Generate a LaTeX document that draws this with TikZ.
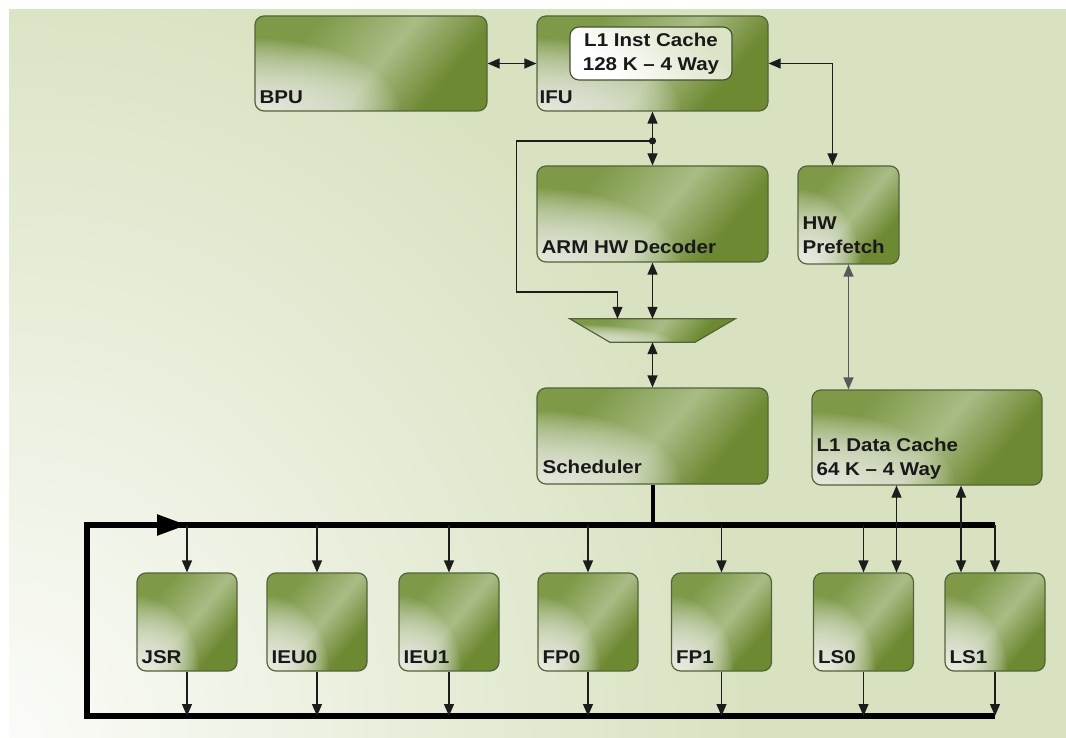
\documentclass[tikz,border=0pt]{standalone}
\usepackage{fontspec}
\setmainfont{Liberation Sans}[FakeStretch=1.11]
\usetikzlibrary{arrows.meta,calc,fadings}
\definecolor{bggreen}{HTML}{D8E2C0}
\definecolor{gA}{HTML}{7E9A48}
\definecolor{gB}{HTML}{A9BC86}
\definecolor{gC}{HTML}{6D8932}
\definecolor{bord}{HTML}{55633A}
\definecolor{lineblk}{HTML}{1C1C1C}
\definecolor{cacheA}{HTML}{DCE4C8}
\pgfdeclarehorizontalshading{gshade}{100bp}{color(0bp)=(gA); color(30bp)=(gA); color(52bp)=(gB); color(70bp)=(gC); color(100bp)=(gC)}
\pgfdeclarehorizontalshading{cshade}{100bp}{color(0bp)=(white); color(30bp)=(white); color(70bp)=(cacheA); color(100bp)=(cacheA)}
\tikzfading[name=glow, inner color=transparent!0, outer color=transparent!100]
\begin{document}
\begin{tikzpicture}[x=1pt,y=-1pt,
  gbox/.style={draw=bord, line width=1.2pt, shade, shading=gshade, shading angle=-40, inner sep=0pt,
    path picture={
      \foreach \k in {1,...,40}{
        \fill[white, opacity=0.048]
          let \p1=(path picture bounding box.south west), \p2=(path picture bounding box.north east) in
          (\p1) ellipse [x radius={(\x2-\x1)*0.0155*\k}, y radius={(\y2-\y1)*0.019*\k}];
      }}},
  rbox/.style={gbox, rounded corners=9pt},
  cbox/.style={draw=bord!80!black, line width=1.1pt, rounded corners=9pt, shade, shading=cshade, shading angle=45, inner sep=0pt,
    align=center, font=\bfseries\fontsize{18.5}{24}\selectfont, text=black!90},
  lbl/.style={anchor=base west, inner sep=0pt, font=\bfseries\fontsize{18.5}{24}\selectfont, text=black!90},
  arr/.style={draw=lineblk, line width=1.2pt, -{Triangle[length=12pt,width=10pt]}},
  dbl/.style={draw=lineblk, line width=1.2pt, {Triangle[length=12pt,width=10pt]}-{Triangle[length=12pt,width=10pt]}},
  bus/.style={draw=black, line width=5.5pt, line join=miter},
  stub/.style={draw=black, line width=4pt},
  unit/.style={rbox, minimum width=100pt, minimum height=98pt},
]
\useasboundingbox (0,0) rectangle (1066,738);
% background
\begin{scope}
  \clip (9,9) rectangle (1066,738);
  \fill[bggreen] (9,9) rectangle (1066,738);
  \fill[white, path fading=glow, fill opacity=0.9] (-741,-62) rectangle (759,1538);
\end{scope}

% upper blocks
\node[rbox, minimum width=232pt, minimum height=95pt] (bpu) at (371,63.5) {};
\node[rbox, minimum width=231pt, minimum height=95pt] (ifu) at (652.5,63.5) {};
\node[cbox, minimum width=162pt, minimum height=53pt] (l1i) at (651,53.5) {L1 Inst Cache\\128 K – 4 Way};
\node[rbox, minimum width=231pt, minimum height=96pt] (dec) at (652.5,214) {};
% multiplexer (trapezoid drawn over an invisible frame node)
\node[inner sep=0pt, minimum width=165pt, minimum height=23pt] (mux) at (652.5,330.5) {};
\path[gbox, line join=miter] (mux.north west) -- (mux.north east) -- ([xshift=-40pt]mux.south east)
  -- ([xshift=40pt]mux.south west) -- cycle;
\node[rbox, minimum width=231pt, minimum height=96pt] (sched) at (652.5,436) {};
\node[rbox, minimum width=101pt, minimum height=98pt] (hwp) at (848.5,215) {};
\node[rbox, minimum width=230pt, minimum height=95pt] (dc) at (927,437.5) {};

% units
\node[unit] (jsr)  at (187,622) {};
\node[unit] (ieu0) at (317,622) {};
\node[unit] (ieu1) at (449,622) {};
\node[unit] (fp0)  at (588,622) {};
\node[unit] (fp1)  at (721.5,622) {};
\node[unit] (ls0)  at (863.5,622) {};
\node[unit] (ls1)  at (995,622) {};

% labels
\node[lbl] (bpuL)  at ([shift={(5,-8)}]bpu.south west) {BPU};
\node[lbl] (ifuL)  at ([shift={(3,-8)}]ifu.south west) {IFU};
\node[lbl] (decL)  at ([shift={(5,-9)}]dec.south west) {ARM HW Decoder};
\node[lbl] (schL)  at ([shift={(6,-11)}]sched.south west) {Scheduler};
\node[lbl] (hwpL1) at ([shift={(5,-35)}]hwp.south west) {HW};
\node[lbl] (hwpL2) at ([shift={(5,-11)}]hwp.south west) {Prefetch};
\node[lbl] (dcL1)  at ([shift={(5,-34)}]dc.south west) {L1 Data Cache};
\node[lbl] (dcL2)  at ([shift={(5,-10)}]dc.south west) {64 K – 4 Way};
\node[lbl] (jsrL)  at ([shift={(5,-8)}]jsr.south west) {JSR};
\node[lbl] (ieu0L) at ([shift={(5,-8)}]ieu0.south west) {IEU0};
\node[lbl] (ieu1L) at ([shift={(5,-8)}]ieu1.south west) {IEU1};
\node[lbl] (fp0L)  at ([shift={(5,-8)}]fp0.south west) {FP0};
\node[lbl] (fp1L)  at ([shift={(5,-8)}]fp1.south west) {FP1};
\node[lbl] (ls0L)  at ([shift={(5,-8)}]ls0.south west) {LS0};
\node[lbl] (ls1L)  at ([shift={(5,-8)}]ls1.south west) {LS1};

% upper connectors
\draw[dbl] (bpu.east) -- (ifu.west);
\coordinate (hwpin) at ([xshift=-16pt]hwp.north);
\draw[dbl] (ifu.east) -| (hwpin);
\draw[dbl] (ifu.south) -- (dec.north);
\coordinate (tap) at ($(ifu.south)!0.545!(dec.north)$);
\fill[lineblk] (tap) circle[radius=3.6pt];
\coordinate (muxin) at ([xshift=-35pt]mux.north);
\draw[arr] (tap) -- ++(-136,0) -- ++(0,151) -| (muxin);
\draw[dbl] (dec.south) -- (mux.north);
\draw[dbl] (mux.south) -- (sched.north);
\draw[dbl, draw=black!65] (hwp.south) -- (hwp.south |- dc.north);

% buses
\coordinate (busTL) at (87,525);
\coordinate (busTR) at (ls1.north |- busTL);
\coordinate (busBL) at (87,716);
\coordinate (busBR) at (ls1.south |- busBL);
\draw[stub] (sched.south) -- (sched.south |- busTL);
\draw[bus] (busBR) -- (busBL) -- (busTL) -- (busTR);
\draw[bus, -{Triangle[length=30pt,width=20pt]}] (busTL) -- (jsr.north |- busTL);

\foreach \u in {jsr,ieu0,ieu1,fp0,fp1,ls0,ls1}{
  \draw[arr] (\u.north |- busTL) -- (\u.north);
  \draw[arr] (\u.south) -- (\u.south |- busBL);
}
\draw[dbl] ([xshift=33pt]ls0.north) -- ([xshift=33pt]ls0.north |- dc.south);
\draw[dbl] ([xshift=-34pt]ls1.north) -- ([xshift=-34pt]ls1.north |- dc.south);
\end{tikzpicture}
\end{document}
